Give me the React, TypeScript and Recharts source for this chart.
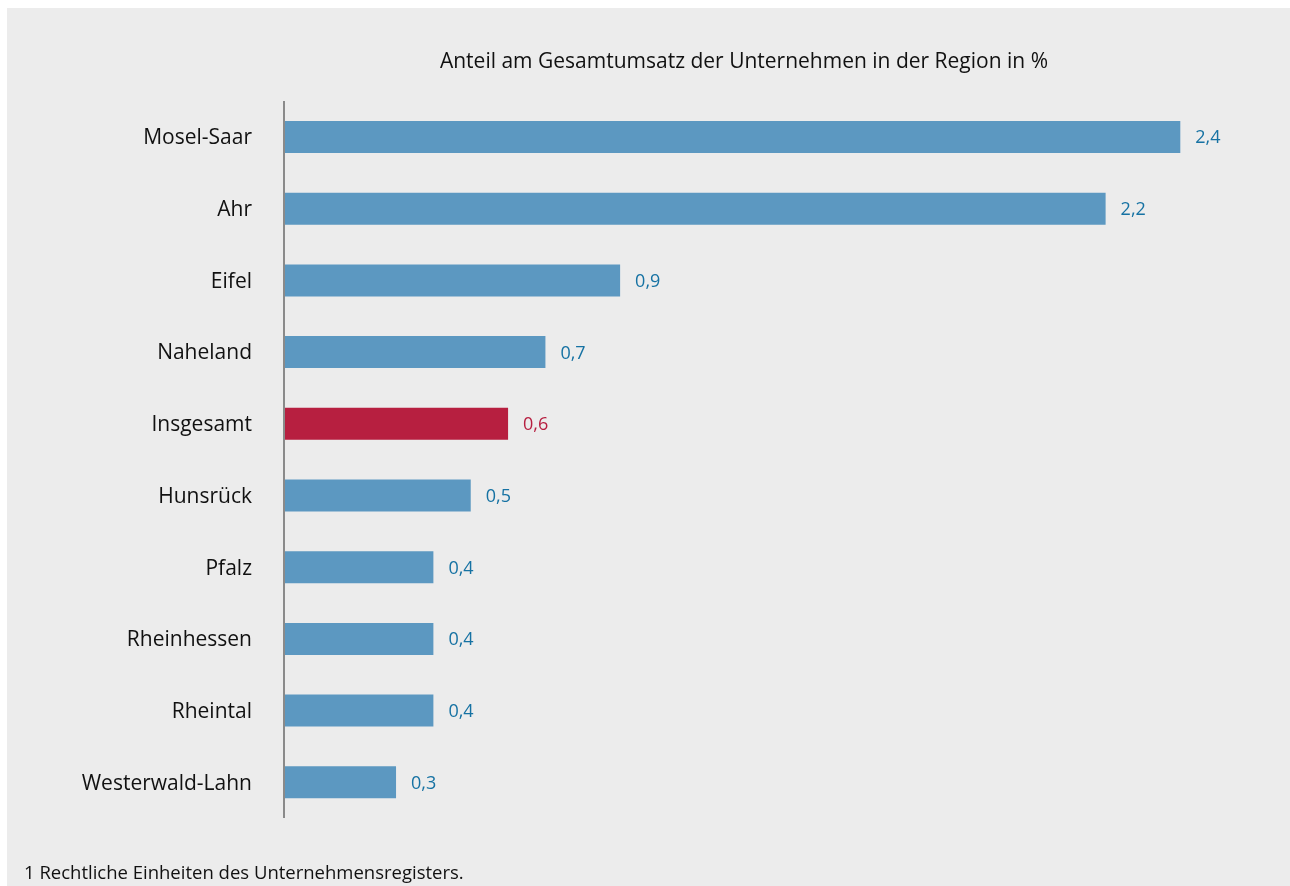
import { BarChart, Bar, XAxis, YAxis, Cell, LabelList } from 'recharts';

const regions = [
  'Mosel-Saar', 'Ahr', 'Eifel', 'Naheland', 'Insgesamt',
  'Hunsrück', 'Pfalz', 'Rheinhessen', 'Rheintal', 'Westerwald-Lahn',
];
const anteil = [2.4, 2.2, 0.9, 0.7, 0.6, 0.5, 0.4, 0.4, 0.4, 0.3];
const totalLabel = 'Insgesamt';

const BLUE = '#5c98c1';
const RED = '#b71f40';
const BLUE_TEXT = '#1672a3';
const FONT = '"Open Sans", "Noto Sans", sans-serif';

const data = regions.map((name, i) => ({ name, wert: anteil[i] }));

/** Wertbeschriftung rechts neben dem Balken, Insgesamt in Rot. */
function ValueLabel(props: any) {
  const { x, y, width, height, value, index } = props;
  const isTotal = regions[index] === totalLabel;
  return (
    <text
      x={x + width + 15}
      y={y + height / 2}
      dy="0.36em"
      fill={isTotal ? RED : BLUE_TEXT}
      fontSize={18}
      fontFamily={FONT}
    >
      {Number(value).toFixed(1).replace('.', ',')}
    </text>
  );
}

export default function App() {
  return (
    <div style={{ position: 'fixed', left: 7, top: 8, width: 1283, height: 878, background: '#ececec', fontFamily: FONT }}>
      <div style={{ position: 'absolute', left: 0, width: 1474, top: 38, textAlign: 'center', fontSize: 21, color: '#111' }}>
        Anteil am Gesamtumsatz der Unternehmen in der Region in %
      </div>
      <BarChart
        width={1283}
        height={878}
        data={data}
        layout="vertical"
        margin={{ top: 93, right: 35, bottom: 68, left: 1 }}
        barCategoryGap={0}
      >
        <XAxis type="number" domain={[0, 2.6]} hide />
        <YAxis
          type="category"
          dataKey="name"
          width={276}
          axisLine={{ stroke: '#8a8a8a', strokeWidth: 2 }}
          tickLine={false}
          tickSize={0}
          tickMargin={32}
          tick={{ fill: '#111', fontSize: 21, fontFamily: FONT }}
        />
        <Bar dataKey="wert" barSize={32} isAnimationActive={false}>
          {data.map((d) => (
            <Cell key={d.name} fill={d.name === totalLabel ? RED : BLUE} />
          ))}
          <LabelList dataKey="wert" content={ValueLabel} />
        </Bar>
      </BarChart>
      <div style={{ position: 'absolute', left: 17, top: 851, fontSize: 18.5, color: '#111' }}>
        1 Rechtliche Einheiten des Unternehmensregisters.
      </div>
    </div>
  );
}
